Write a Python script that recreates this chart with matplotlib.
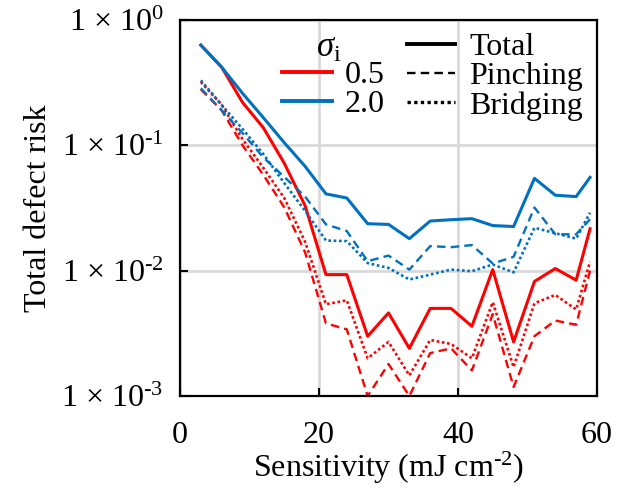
import matplotlib
matplotlib.use("Agg")
import matplotlib.pyplot as plt
from matplotlib.lines import Line2D

plt.rcParams['font.family'] = ['Liberation Serif', 'DejaVu Serif']
plt.rcParams['mathtext.fontset'] = 'custom'
plt.rcParams['mathtext.rm'] = 'Liberation Serif'
plt.rcParams['mathtext.it'] = 'Liberation Serif:italic'
plt.rcParams['mathtext.bf'] = 'Liberation Serif:bold'

# ---- data ----
sensitivity = [3, 6, 9, 12, 15, 18, 21, 24, 27, 30, 33, 36, 39, 42, 45, 48, 51, 54, 57, 59]

red_total = [0.63, 0.42, 0.22, 0.138, 0.072, 0.033, 0.0093, 0.0093, 0.0030, 0.0046,
             0.0024, 0.0050, 0.0050, 0.0036, 0.0102, 0.0027, 0.0082, 0.0104, 0.0084, 0.0216]
red_pinching = [0.28, 0.19, 0.10, 0.058, 0.032, 0.014, 0.0038, 0.0034, 0.0010, 0.0018,
                0.0010, 0.0022, 0.0024, 0.0016, 0.0045, 0.00118, 0.0030, 0.0040, 0.0037, 0.0100]
red_bridging = [0.32, 0.21, 0.112, 0.066, 0.038, 0.017, 0.0054, 0.0058, 0.0020, 0.0027,
                0.00146, 0.0028, 0.0026, 0.0020, 0.0056, 0.0017, 0.0055, 0.0064, 0.0049, 0.0118]

blue_total = [0.63, 0.42, 0.26, 0.166, 0.105, 0.068, 0.041, 0.038, 0.0237, 0.0234,
              0.018, 0.0249, 0.0255, 0.026, 0.0229, 0.0225, 0.0545, 0.040, 0.039, 0.0555]
blue_pinching = [0.285, 0.19, 0.125, 0.08, 0.056, 0.039, 0.0234, 0.0207, 0.0119, 0.0132,
                 0.0102, 0.0157, 0.0154, 0.016, 0.0114, 0.0129, 0.0319, 0.0195, 0.0195, 0.0257]
blue_bridging = [0.33, 0.21, 0.135, 0.085, 0.05, 0.03, 0.0174, 0.0172, 0.0115, 0.0105,
                 0.0085, 0.0093, 0.0102, 0.0099, 0.0112, 0.0097, 0.022, 0.0199, 0.018, 0.029]

sigma_labels = ['0.5', '2.0']
type_labels = ['Total', 'Pinching', 'Bridging']
x_ticks = [0, 20, 40, 60]
y_ticks = [1e-3, 1e-2, 1e-1, 1e0]
y_tick_labels = [r'1 × 10$^{\text{-3}}$', r'1 × 10$^{\text{-2}}$',
                 r'1 × 10$^{\text{-1}}$', r'1 × 10$^{\text{0}}$']

RED = '#FF0000'
BLUE = '#0070C0'
DASH = (0, (3.6, 2.2))
DOT = (0, (1.0, 1.0))
FS = 23

fig = plt.figure(figsize=(6.18, 4.90), dpi=100)
ax = fig.add_axes([180/618, 1-396/490, 417/618, 376/490])

lw_solid = 2.2
lw_dash = 1.7
lw_dot = 1.9
ax.plot(sensitivity, red_total, color=RED, lw=lw_solid)
ax.plot(sensitivity, red_pinching, color=RED, lw=lw_dash, linestyle=DASH)
ax.plot(sensitivity, red_bridging, color=RED, lw=lw_dot, linestyle=DOT)
ax.plot(sensitivity, blue_total, color=BLUE, lw=lw_solid)
ax.plot(sensitivity, blue_pinching, color=BLUE, lw=lw_dash, linestyle=DASH)
ax.plot(sensitivity, blue_bridging, color=BLUE, lw=lw_dot, linestyle=DOT)

ax.set_yscale('log')
ax.set_xlim(0, 60)
ax.set_ylim(1e-3, 1)
ax.set_xticks(x_ticks)
ax.set_xticklabels([str(t) for t in x_ticks])
ax.set_yticks(y_ticks)
ax.set_yticklabels(y_tick_labels)
ax.yaxis.set_minor_locator(matplotlib.ticker.NullLocator())

ax.grid(True, color='#d9d9d9', lw=2.0)
ax.set_axisbelow(True)
for s in ax.spines.values():
    s.set_linewidth(1.6)
    s.set_color('black')
ax.tick_params(direction='in', length=6, width=1.5, labelsize=FS, pad=12,
               colors='black')
ax.tick_params(axis='x', pad=18)

ax.set_xlabel(r'Sensitivity (mJ cm$^{\text{-2}}$)', fontsize=FS, labelpad=0)
ax.set_ylabel('Total defect risk', fontsize=FS, labelpad=6)

h1 = [Line2D([], [], color=RED, lw=2.8), Line2D([], [], color=BLUE, lw=2.8)]
leg1 = ax.legend(h1, sigma_labels, fontsize=FS, frameon=False, loc='upper left',
                 bbox_to_anchor=(0.245, 0.892), borderaxespad=0, borderpad=0,
                 handlelength=1.55, handletextpad=0.4, labelspacing=0.0)
ax.add_artist(leg1)
ax.text(0.327, 0.925, r'$\sigma_{\mathrm{i}}$', transform=ax.transAxes,
        fontsize=FS + 2, ha='left', va='center')

h2 = [Line2D([], [], color='black', lw=2.8),
      Line2D([], [], color='black', lw=1.7, linestyle=DASH),
      Line2D([], [], color='black', lw=2.4, linestyle=DOT)]
ax.legend(h2, type_labels, fontsize=FS, frameon=False, loc='upper left',
          bbox_to_anchor=(0.545, 0.967), borderaxespad=0, borderpad=0,
          handlelength=1.5, handletextpad=0.45, labelspacing=0.0)

fig.savefig('out.png', dpi=100)
